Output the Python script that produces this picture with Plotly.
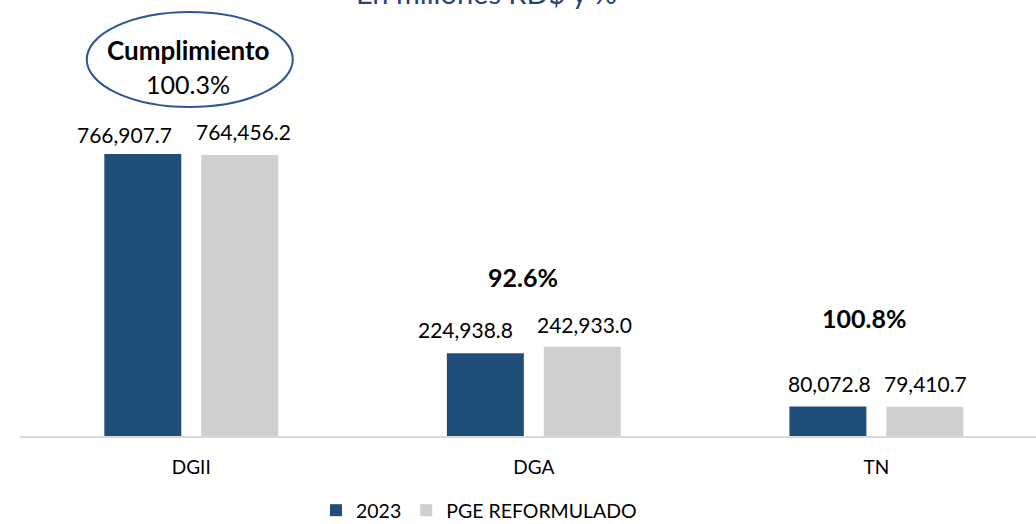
import plotly.graph_objects as go

categories = ["DGII", "DGA", "TN"]
series_2023 = [766907.7, 224938.8, 80072.8]
series_pge = [764456.2, 242933.0, 79410.7]
cumplimiento = ["100.3%", "92.6%", "100.8%"]
labels_2023 = ["766,907.7", "224,938.8", "80,072.8"]
labels_pge = ["764,456.2", "242,933.0", "79,410.7"]
series_names = ["2023", "PGE REFORMULADO"]
title_text = "En millones RD$ y %"

FONT = "Lato"
C_2023 = "#1F4E79"
C_PGE = "#D0CECE"

fig = go.Figure()
fig.add_trace(go.Bar(x=categories, y=series_2023, name=series_names[0],
                     marker=dict(color=C_2023, line=dict(width=0))))
fig.add_trace(go.Bar(x=categories, y=series_pge, name=series_names[1],
                     marker=dict(color=C_PGE, line=dict(width=0))))

# value labels
shift_2023 = [-67, -68, -47]
shift_pge = [52, 51, 49]
yshift_2023 = [20, 24, 23]
yshift_pge = [23, 22, 23]
for i, c in enumerate(categories):
    fig.add_annotation(x=c, y=series_2023[i], text=labels_2023[i], showarrow=False,
                       xshift=shift_2023[i], yshift=yshift_2023[i], yanchor="middle",
                       font=dict(family=FONT, size=21, color="#000000"))
    fig.add_annotation(x=c, y=series_pge[i], text=labels_pge[i], showarrow=False,
                       xshift=shift_pge[i], yshift=yshift_pge[i], yanchor="middle",
                       font=dict(family=FONT, size=21, color="#000000"))

# cumplimiento labels
pct_shift = [0, 69.5, 89]
pct_x = [0, -11, -12]
for i, c in enumerate(categories):
    top = max(series_2023[i], series_pge[i])
    if i == 0:
        fig.add_annotation(x=c, y=series_2023[i], text="<b>Cumplimiento</b>", showarrow=False,
                           xshift=-3, yshift=104, yanchor="middle",
                           font=dict(family=FONT, size=26, color="#000000"))
        fig.add_annotation(x=c, y=series_2023[i], text=cumplimiento[i], showarrow=False,
                           xshift=-3, yshift=70.5, yanchor="middle",
                           font=dict(family=FONT, size=25, color="#000000"))
        fig.add_shape(type="circle", xref="x", yref="y",
                      xsizemode="pixel", ysizemode="pixel",
                      xanchor=0, yanchor=series_2023[i],
                      x0=-104.5, x1=101.5, y0=47, y1=142,
                      line=dict(color="#2F5597", width=2), fillcolor="rgba(0,0,0,0)")
    else:
        fig.add_annotation(x=c, y=top, text="<b>" + cumplimiento[i] + "</b>", showarrow=False,
                           xshift=pct_x[i], yshift=pct_shift[i], yanchor="middle",
                           font=dict(family=FONT, size=25, color="#000000"))

fig.add_annotation(xref="paper", yref="paper", x=0.4587, y=0.9725, xanchor="center",
                   yanchor="bottom", text=title_text, showarrow=False,
                   font=dict(family=FONT, size=29, color="#264478"))

fig.update_layout(
    width=1036, height=524,
    margin=dict(l=20, r=0, t=0, b=88, pad=0, autoexpand=False),
    paper_bgcolor="white", plot_bgcolor="white",
    barmode="group", bargap=0.434, bargroupgap=0.206,
    font=dict(family=FONT, size=18, color="#000000"),
    showlegend=True,
    legend=dict(orientation="h", x=0.2913, xanchor="left", y=-0.1709, yanchor="middle",
                font=dict(family=FONT, size=19.5, color="#000000"),
                bgcolor="rgba(0,0,0,0)", itemwidth=30, tracegroupgap=0),
    xaxis=dict(type="category", range=[-0.5, 2.466], showline=True, linecolor="#D9D9D9",
               linewidth=2, ticks="", showgrid=False, zeroline=False,
               ticklabelstandoff=13,
               tickfont=dict(family=FONT, size=19, color="#000000")),
    yaxis=dict(range=[0, 1185703], visible=False, showgrid=False, zeroline=False),
)

fig.write_html("out.html", config={"displayModeBar": False},
               post_script="document.body.style.margin='0';")
